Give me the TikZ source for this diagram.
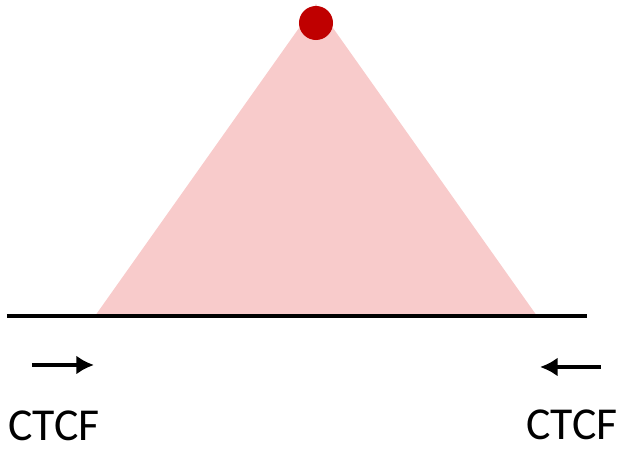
\documentclass[tikz,border=0pt]{standalone}
\usepackage{fontspec}
\setmainfont{Carlito}
\usetikzlibrary{arrows.meta}

\begin{document}
\begin{tikzpicture}[x=0.01cm, y=-0.01cm, >={Latex[length=5pt,width=5.4pt]},
		anchorpt/.style={circle, fill=red!75!black, inner sep=0pt, minimum size=0.34cm},
		motif/.style={->, line width=1.15pt},
		label/.style={font=\fontsize{13}{15}\selectfont, inner sep=0pt}]
		\useasboundingbox (0,0) rectangle (626,449);
		% ---------------- loop ----------------
		\coordinate (La) at (95,316);
		\coordinate (Lb) at (537,316);
		\coordinate (Top) at (316,4);
		\fill[fill={rgb,255:red,248;green,203;blue,203}] (La) -- (Top) -- (Lb) -- cycle;
		\node[anchorpt] (dot) at (316,23) {};
		% chromatin
		\coordinate (Cl) at (7,316);
		\coordinate (Cr) at (587,316);
		\draw[line width=1.15pt] (Cl) -- (Cr);
		% ---------------- CTCF motifs ----------------
		\coordinate (Al) at (32,365);
		\coordinate (Bl) at (94,365);
		\draw[motif] (Al) -- (Bl);
		\coordinate (Ar) at (601,367);
		\coordinate (Br) at (540,367);
		\draw[motif] (Ar) -- (Br);
		\node[label] (ctcfl) at (54,426) {CTCF};
		\node[label] (ctcfr) at (572,425) {CTCF};
	\end{tikzpicture}
\end{document}
